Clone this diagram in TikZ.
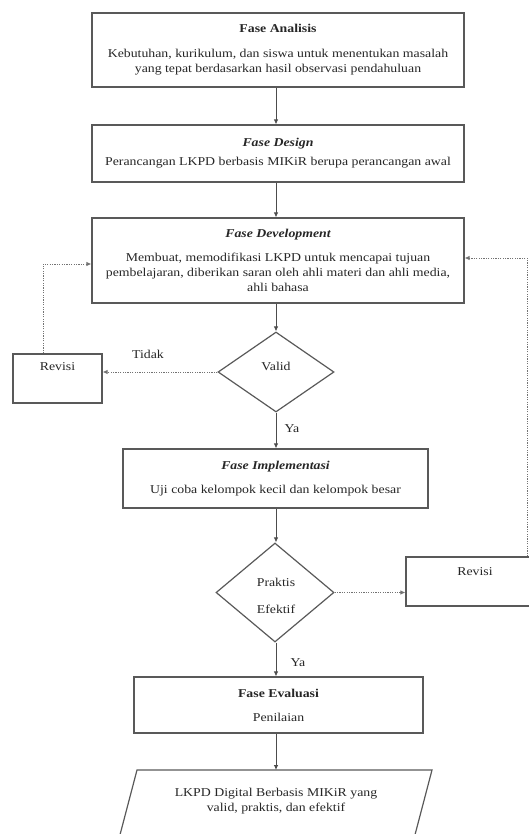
\documentclass[tikz,border=0pt]{standalone}
\usepackage{fontspec}
\setmainfont{Liberation Serif}[FakeStretch=1.15]
\usetikzlibrary{arrows.meta,shapes.geometric}
\begin{document}
\begin{tikzpicture}[x=1pt,y=-1pt,
  every node/.style={text=black!85, font=\fontsize{12}{15}\selectfont},
  box/.style={draw=black!65, line width=1.2pt, inner sep=0pt, align=center},
  dia/.style={draw=black!65, line width=1.2pt, shape=diamond, inner sep=0pt, align=center},
  flow/.style={draw=black!70, line width=0.8pt, -{Latex[length=5pt,width=4.5pt]}},
  dflow/.style={draw=black!55, line width=0.9pt, dash pattern=on 1.2pt off 1.2pt, -{Latex[length=5pt,width=4.5pt]}},
  lbl/.style={inner sep=0pt}
]
\useasboundingbox (0,0) rectangle (529,834);
\clip (0,0) rectangle (529,834);
\coordinate (ax) at (276,0);
\coordinate (lc) at (43,264);
\coordinate (rc) at (527,258);

\node[box, minimum width=372pt, minimum height=74pt] (b1) at (278,50)
  {{\bfseries Fase Analisis}\\[10pt]Kebutuhan, kurikulum, dan siswa untuk menentukan masalah\\yang tepat berdasarkan hasil observasi pendahuluan};
\node[box, minimum width=372pt, minimum height=57pt] (b2) at (278,153.5)
  {{\bfseries\itshape Fase Design}\\[4pt]Perancangan LKPD berbasis MIKiR berupa perancangan awal};
\node[box, minimum width=372pt, minimum height=85pt] (b3) at (278,260.5)
  {{\bfseries\itshape Fase Development}\\[9pt]Membuat, memodifikasi LKPD untuk mencapai tujuan\\pembelajaran, diberikan saran oleh ahli materi dan ahli media,\\ahli bahasa};
\node[dia, minimum width=116pt, minimum height=80pt] (d1) at (276,372) {};
\node[lbl] (t1) at (276,366) {Valid};
\node[box, minimum width=89pt, minimum height=49pt] (rl) at (57.5,378.5) {};
\node[lbl] (rlt) at (57.5,367) {Revisi};
\node[box, minimum width=305pt, minimum height=59pt] (b4) at (275.5,478.5)
  {{\bfseries\itshape Fase Implementasi}\\[9pt]Uji coba kelompok kecil dan kelompok besar};
\node[dia, minimum width=118pt, minimum height=99pt] (d2) at (275,592.5) {};
\node[lbl, align=center, font=\fontsize{12}{27}\selectfont] (t2) at (276,596) {Praktis\\Efektif};
\node[box, minimum width=138pt, minimum height=49pt] (rr) at (475,581.5) {};
\node[lbl] (rrt) at (475,572) {Revisi};
\node[box, minimum width=289pt, minimum height=56pt] (b5) at (278.5,705)
  {{\bfseries Fase Evaluasi}\\[9pt]Penilaian};
\draw[draw=black!65, line width=1.2pt] (116,850) -- (137,770) -- (432,770) -- (411,850);
\node[lbl, align=center] (out) at (276,801) {LKPD Digital Berbasis MIKiR yang\\valid, praktis, dan efektif};
\coordinate (pt) at (276,770);

\draw[flow] (b1.south -| ax) -- (b2.north -| ax);
\draw[flow] (b2.south -| ax) -- (b3.north -| ax);
\draw[flow] (b3.south -| ax) -- (d1.north);
\draw[flow] (d1.south) -- (b4.north -| ax);
\draw[flow] (b4.south -| ax) -- (d2.north -| ax);
\draw[flow] (d2.south -| ax) -- (b5.north -| ax);
\draw[flow] (b5.south -| ax) -- (pt);

\draw[dflow] (d1.west) -- (rl.east |- d1.west);
\draw[dflow] (rl.north -| lc) |- (b3.west |- lc);
\draw[dflow] (d2.east) -- (rr.west |- d2.east);
\draw[dflow] (rr.north -| rc) |- (b3.east |- rc);

\node[lbl] (tidak) at (148,354) {Tidak};
\node[lbl] (ya1) at (292,429) {Ya};
\node[lbl] (ya2) at (298,663) {Ya};
\end{tikzpicture}
\end{document}
